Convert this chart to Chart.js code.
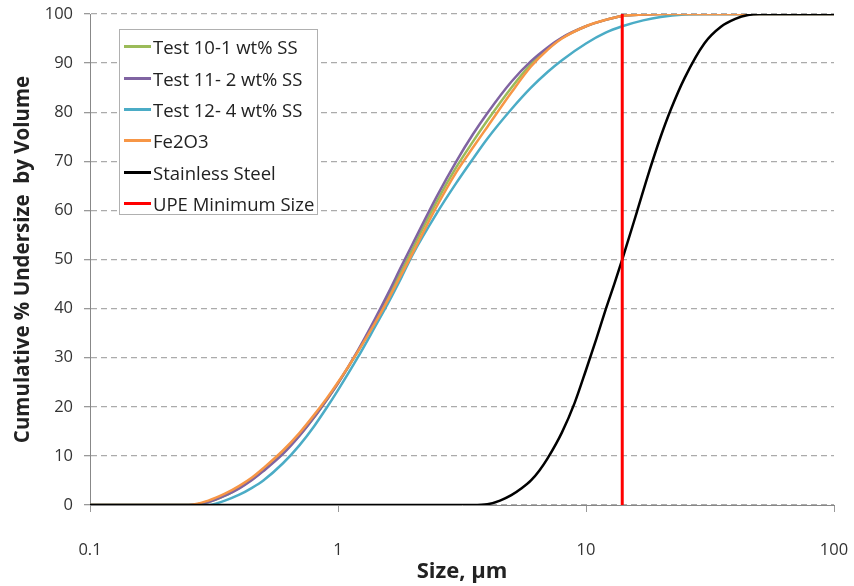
<!DOCTYPE html>
<html>
<head>
<meta charset="utf-8">
<script src="https://cdn.jsdelivr.net/npm/chart.js@4/dist/chart.umd.min.js"></script>
<style>
  body { margin: 0; background: #fff; }
  #wrap { position: relative; width: 854px; height: 586px; }
  #legend {
    position: absolute; left: 119px; top: 29px; width: 199px; height: 186px;
    border: 1px solid #b0b0b0; background: #fff; box-sizing: border-box;
    font-family: "Open Sans", sans-serif; font-size: 18.5px; color: #222;
    padding-top: 1px;
  }
  .item { height: 31.4px; display: flex; align-items: center; white-space: nowrap; }
  .swatch { width: 27px; height: 3px; margin-left: 4px; margin-right: 2px; }
</style>
</head>
<body>
<div id="wrap">
  <canvas id="psd" width="854" height="586"></canvas>
  <div id="legend"></div>
</div>
<script>
// size bins (um) shared by the four test samples, cumulative % undersize per bin
const sizes   = [0.1, 0.2, 0.25, 0.3, 0.35, 0.4, 0.45, 0.5, 0.6, 0.7, 0.8, 0.9, 1, 1.2, 1.4, 1.6, 1.8, 2, 2.5, 3, 3.5, 4, 5, 6, 7, 8, 10, 12, 14, 17, 20, 25, 30, 40, 50, 100];
const test10  = [0, 0, 0, 0.6, 1.9, 3.5, 5.2, 7.0, 10.6, 14.2, 17.8, 21.4, 24.8, 31.2, 37.1, 42.6, 47.6, 52.2, 61.8, 68.8, 74.0, 78.3, 85.0, 89.8, 92.9, 95.1, 97.5, 98.8, 99.6, 99.9, 100, 100, 100, 100, 100, 100];
const test11  = [0, 0, 0, 0.6, 1.9, 3.4, 5.1, 6.9, 10.4, 14.1, 17.8, 21.4, 24.8, 31.4, 37.6, 43.3, 48.6, 53.2, 62.8, 70.0, 75.5, 79.8, 86.2, 90.4, 93.2, 95.2, 97.5, 98.8, 99.6, 99.9, 100, 100, 100, 100, 100, 100];
const test12  = [0, 0, 0, 0, 0.9, 2.1, 3.5, 5.0, 8.5, 12.2, 16.0, 19.8, 23.4, 30.0, 36.0, 41.3, 46.3, 51.0, 59.4, 65.6, 70.5, 74.6, 80.6, 85.0, 88.2, 90.6, 94.0, 96.2, 97.5, 98.7, 99.4, 99.9, 100, 100, 100, 100];
const fe2o3   = [0, 0, 0, 0.9, 2.3, 3.9, 5.6, 7.5, 11.1, 14.7, 18.3, 21.7, 25.0, 31.2, 36.8, 42.0, 46.9, 51.3, 60.8, 67.8, 72.8, 77.0, 84.0, 89.3, 92.7, 95.0, 97.5, 98.8, 99.6, 99.9, 100, 100, 100, 100, 100, 100];

const ssSizes   = [0.1, 1, 3, 3.5, 4, 4.5, 5, 5.5, 6, 6.5, 7, 8, 9, 10, 11, 12, 13, 14, 16, 18, 20, 22, 25, 30, 35, 40, 45, 50, 100];
const stainless = [0, 0, 0, 0, 0.15, 0.9, 2.0, 3.4, 5.0, 7.1, 9.5, 14.8, 20.8, 27.5, 33.8, 39.8, 45.0, 50.0, 59.5, 68.0, 75.0, 80.6, 87.0, 94.0, 97.4, 99.0, 99.8, 100, 100];

const upeSize   = [14, 14];
const upeLevel  = [0, 100];

const xTicks    = [0.1, 1, 10, 100];

const pts = (xs, ys) => xs.map((x, i) => ({ x: x, y: ys[i] }));

const series = [
  { label: 'Test 10-1 wt% SS',  data: pts(sizes, test10),      color: '#9BBB59', width: 2.5, order: 5 },
  { label: 'Test 11- 2 wt% SS', data: pts(sizes, test11),      color: '#8064A2', width: 2.5, order: 4 },
  { label: 'Test 12- 4 wt% SS', data: pts(sizes, test12),      color: '#4BACC6', width: 2.5, order: 3 },
  { label: 'Fe2O3',             data: pts(sizes, fe2o3),       color: '#F79646', width: 2.5, order: 2 },
  { label: 'Stainless Steel',   data: pts(ssSizes, stainless), color: '#000000', width: 2.5, order: 1 },
  { label: 'UPE Minimum Size',  data: pts(upeSize, upeLevel),  color: '#FF0000', width: 3,   order: 0 },
];

const font = '"Open Sans", sans-serif';

new Chart(document.getElementById('psd'), {
  type: 'scatter',
  data: {
    datasets: series.map(s => ({
      label: s.label,
      data: s.data,
      borderColor: s.color,
      backgroundColor: s.color,
      borderWidth: s.width,
      showLine: true,
      pointRadius: 0,
      cubicInterpolationMode: 'monotone',
      order: s.order,
    }))
  },
  options: {
    responsive: false,
    animation: false,
    layout: { padding: 0 },
    plugins: { legend: { display: false }, tooltip: { enabled: false } },
    scales: {
      x: {
        type: 'logarithmic',
        min: 0.1, max: 100,
        afterBuildTicks: s => { s.ticks = xTicks.map(v => ({ value: v })); },
        afterFit: s => { s.height = 81; s.paddingLeft = 0; s.paddingRight = 20; },
        ticks: {
          color: '#333', padding: 28,
          font: { family: font, size: 16.5 },
          callback: v => String(v),
          maxRotation: 0, autoSkip: false,
        },
        grid: { display: true, drawOnChartArea: false, tickLength: 7, color: '#999' },
        border: { color: '#888', width: 1 },
        title: {
          display: true, text: 'Size, µm', color: '#222',
          font: { family: font, size: 22, weight: 'bold' },
          padding: { top: 0, bottom: 1 },
        },
      },
      y: {
        min: 0, max: 100,
        afterFit: s => { s.width = 90; s.paddingTop = 14; s.paddingBottom = 0; },
        ticks: {
          stepSize: 10, color: '#333', padding: 11,
          font: { family: font, size: 16.5 },
        },
        grid: { color: '#ababab', tickColor: '#999', tickLength: 6, tickBorderDash: [], lineWidth: 1.3 },
        border: { color: '#888', width: 1, dash: [6, 4] },
        title: {
          display: true, text: 'Cumulative % Undersize  by Volume', color: '#222',
          font: { family: font, size: 20.5, weight: 'bold' },
          padding: { top: 11, bottom: 0 },
        },
      },
    },
  },
});

// legend box sits inside the plot area, top left
const legend = document.getElementById('legend');
series.forEach(s => {
  const row = document.createElement('div');
  row.className = 'item';
  row.innerHTML = '<span class="swatch" style="background:' + s.color + '"></span><span>' + s.label + '</span>';
  legend.appendChild(row);
});
</script>
</body>
</html>
